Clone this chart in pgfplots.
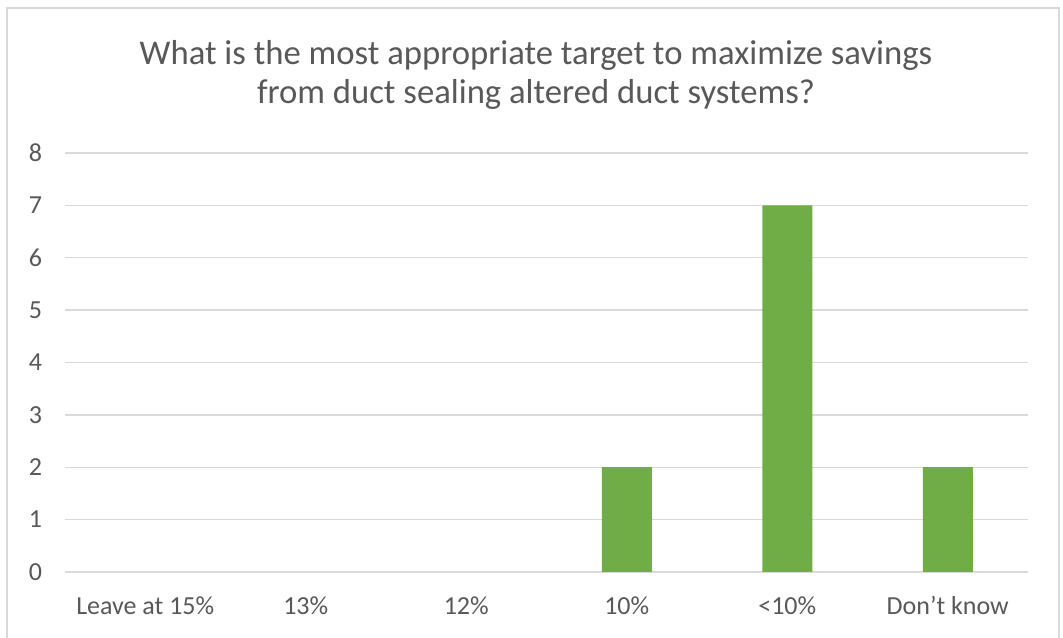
\documentclass[border=0pt]{standalone}
\usepackage{pgfplots}
\pgfplotsset{compat=1.18}
\usepackage{fontspec}
\setmainfont{Carlito}
\definecolor{txt}{HTML}{595959}
\definecolor{gridc}{HTML}{D9D9D9}
\definecolor{barg}{HTML}{70AD47}
\begin{document}
\begin{tikzpicture}[x=0.75pt,y=0.75pt]
\useasboundingbox (0,0) rectangle (1063,638);
\fill[white] (0,0) rectangle (1063,638);
\draw[gridc, line width=1.5pt] (7,-5) -- (7,630) -- (1059,630) -- (1059,-5);
\node[anchor=base, text=txt, font=\fontsize{26}{31}\selectfont] at (536,573) {What is the most appropriate target to maximize savings};
\node[anchor=base, text=txt, font=\fontsize{26}{31}\selectfont] at (536,534) {from duct sealing altered duct systems?};
\begin{axis}[
  at={(48.75pt,49.5pt)}, anchor=south west,
  scale only axis, width=722.25pt, height=314.25pt,
  xmin=-0.5, xmax=5.5, ymin=0, ymax=8,
  axis line style={draw=none},
  ytick={0,1,...,8}, xtick={0,...,5},
  xticklabels={Leave at 15\%, 13\%, 12\%, 10\%, <10\%, Don’t know},
  ymajorgrids, grid style={gridc, line width=1.1pt},
  major tick length=0pt,
  tick label style={text=txt, font=\fontsize{19.5}{23}\selectfont},
  /pgf/number format/assume math mode=true,
  yticklabel style={anchor=east, inner sep=0pt, xshift=-17pt},
  xticklabel style={anchor=base, inner sep=0pt, yshift=-32.25pt},
  ybar, bar width=37.5pt,
]
\addplot[fill=barg, draw=none] coordinates {(3,2) (4,7) (5,2)};
\end{axis}
\end{tikzpicture}
\end{document}
